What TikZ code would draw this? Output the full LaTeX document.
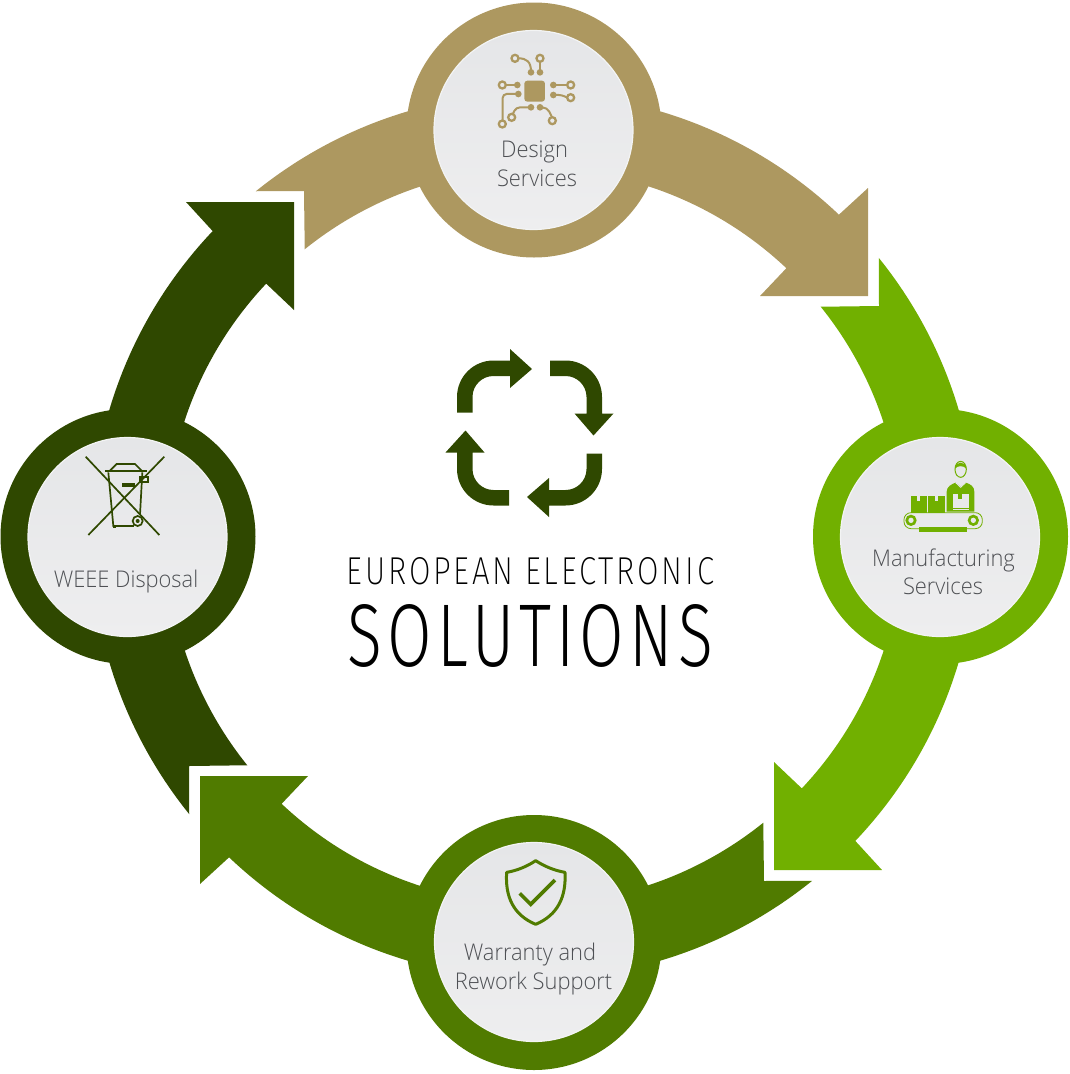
\documentclass[tikz,border=0pt]{standalone}
\usepackage{fontspec}
\newfontfamily\labf[FakeStretch=0.95]{Open Sans Light}
\newfontfamily\titlefa[FakeStretch=0.55,LetterSpace=5]{Fira Sans ExtraLight}
\newfontfamily\titlefb[FakeStretch=0.55,LetterSpace=4.5]{Fira Sans Light}
\definecolor{cbrown}{HTML}{AD9860}
\definecolor{cgreen}{HTML}{71B000}
\definecolor{colive}{HTML}{507B00}
\definecolor{cdark}{HTML}{2F4800}
\definecolor{clabel}{HTML}{4E5054}
\definecolor{cdisk}{HTML}{E8E9EA}
\definecolor{cdisktop}{HTML}{E5E6E8}
\definecolor{cdiskbot}{HTML}{EEEEEF}
\definecolor{crim}{HTML}{F3F4F4}
\tikzset{
  ring/.style={circle,inner sep=0pt,outer sep=0pt,minimum size=255pt,fill=#1},
  disk/.style={circle,inner sep=0pt,outer sep=0pt,minimum size=199pt,top color=cdisktop,bottom color=cdiskbot,draw=crim,line width=1.2pt},
  lab/.style={font=\labf\fontsize{23}{29}\selectfont,text=clabel,align=center,inner sep=0pt},
  iconline/.style={line width=2pt,draw=#1},
  dot/.style={fill=#1,draw=none},
  hole/.style={draw=#1,fill=cdisk,line width=2.3pt},
  bigarrow/.pic={
    \fill[#1] (128.9:443) arc[start angle=128.9,end angle=46.5,radius=443]
      -- (334,348) -- (334,240) -- (226,240) -- (46.7:368)
      arc[start angle=46.7,end angle=128.8,radius=367]
      -- (-230,345) -- cycle;
  },
  loopshape/.pic={
    \fill[cdark] (-72.5,20.5) -- (-72.5,36) arc[start angle=180,end angle=90,radius=36.5]
      -- (-19.5,72.5) -- (-19.5,84) -- (2.5,64) -- (-19.5,45) -- (-19.5,57)
      -- (-36,57) arc[start angle=90,end angle=180,radius=21] -- (-57,20.5) -- cycle;
  }
}
\begin{document}
\begin{tikzpicture}[x=1pt,y=-1pt]
\useasboundingbox (0,0) rectangle (1070,1074);
% big arrows
\begin{scope}[shift={(534,536)},y=1pt]
  \pic[rotate=0] {bigarrow=cbrown};
  \pic[rotate=-90] {bigarrow=cgreen};
  \pic[rotate=-180] {bigarrow=colive};
  \pic[rotate=-270] {bigarrow=cdark};
\end{scope}
% rings and disks
\node[ring=cbrown] (designring) at (534,130) {};
\node[ring=cgreen] (manufring) at (940.5,536.5) {};
\node[ring=colive] (warrring) at (534,942.5) {};
\node[ring=cdark] (weeering) at (128,536.5) {};
\node[disk] (designdisk) at (533.5,130) {};
\node[disk] (manufdisk) at (940,537) {};
\node[disk] (warrdisk) at (534,942) {};
\node[disk] (weeedisk) at (127.5,537) {};
% centre loop
\begin{scope}[shift={(529.5,433)},y=1pt]
  \pic[rotate=0] {loopshape};
  \pic[rotate=-90] {loopshape};
  \pic[rotate=-180] {loopshape};
  \pic[rotate=-270] {loopshape};
\end{scope}
% labels
\node[lab,anchor=base] (designlab) at (534.5,157) {Design};
\node[lab,anchor=base] (designlabb) at (537,186) {Services};
\node[lab,anchor=base] (manuflab) at (943.5,566) {Manufacturing};
\node[lab,anchor=base] (manuflabb) at (943,594) {Services};
\node[lab,anchor=base] (warrlab) at (530,960) {Warranty and};
\node[lab,anchor=base] (warrlabb) at (533.5,989) {Rework Support};
\node[lab,anchor=base] (weeelab) at (126,587) {WEEE Disposal};
% title
\node[inner sep=0pt,anchor=center] (titlea) at (530.5,571) {\resizebox{367pt}{27pt}{\titlefa EUROPEAN ELECTRONIC}};
\node[inner sep=0pt,anchor=center] (titleb) at (530.5,635.5) {\resizebox{365pt}{62pt}{\titlefb SOLUTIONS}};
% circuit icon
\begin{scope}[shift={(430,20)},x=0.3333pt,y=-0.3333pt]
  \fill[cbrown,rounded corners=3pt] (283,182) rectangle (345,245);
  \draw[iconline=cbrown] (265,115) .. controls (290,115) and (303,125) .. (303,155);
  \draw[iconline=cbrown] (330,125) -- (330,155);
  \draw[iconline=cbrown] (228,195) -- (262,195);
  \draw[iconline=cbrown,rounded corners=4pt] (265,222) -- (218,222) -- (218,302);
  \draw[iconline=cbrown,rounded corners=4pt] (303,262) -- (258,262) -- (247,285);
  \draw[iconline=cbrown,rounded corners=5pt] (330,262) -- (352,262) -- (366,292);
  \draw[iconline=cbrown] (370,195) -- (412,195);
  \draw[iconline=cbrown,rounded corners=3pt] (370,225) -- (395,225) -- (412,233);
  \foreach \p in {(303,157),(330,157),(262,195),(265,222),(303,262),(330,262),(370,195),(370,225)} \fill[dot=cbrown] \p circle (10);
  \foreach \p in {(255,115),(330,115),(217,195),(217,312),(245,292),(367,302),(422,195),(422,233)} \draw[hole=cbrown] \p circle (10.5);
\end{scope}
% manufacturing icon
\begin{scope}[shift={(840,440)},x=0.3333pt,y=-0.3333pt]
  \fill[cgreen] (212,167) rectangle (260,220);
  \fill[cgreen] (265,167) rectangle (315,220);
  \fill[cdisk] (231,167) rectangle (239,182);
  \fill[cdisk] (286,167) rectangle (294,182);
  \fill[cgreen] (320,215) -- (320,155) .. controls (320,140) and (335,132) .. (347,128) -- (362,140) -- (377,128) .. controls (392,132) and (403,140) .. (403,155) -- (403,215) -- cycle;
  \draw[line width=0.8pt,draw=cdisk] (347,128) -- (362,142) -- (377,128);
  \draw[line width=1pt,draw=cgreen] (362,88) ellipse (17 and 24);
  \fill[cgreen] (345,86) .. controls (343,62) and (381,62) .. (379,86) .. controls (372,76) and (352,76) .. (345,86) -- cycle;
  \fill[cdisk,draw=cgreen,line width=0.8pt] (338,160) rectangle (388,212);
  \fill[cgreen] (354,160) rectangle (367,178);
  \draw[cgreen,line width=0.7pt] (340,204) -- (386,204);
  \draw[cgreen,line width=0.8pt,rounded corners=7pt] (192,218) rectangle (427,266);
  \fill[cgreen] (237,262) rectangle (382,275);
  \foreach \p in {(213,241),(400,241)} {
    \fill[cgreen] \p circle (17);
    \fill[cdisk] \p circle (8);
  }
\end{scope}
% shield icon
\begin{scope}[shift={(430,840)},x=0.3333pt,y=-0.3333pt]
  \draw[colive,line width=3pt,line join=round] (317,62) .. controls (290,80) and (260,92) .. (230,97)
    .. controls (225,170) and (250,225) .. (317,253)
    .. controls (384,225) and (409,170) .. (405,97)
    .. controls (375,92) and (345,80) .. (317,62) -- cycle;
  \draw[colive,line width=3.6pt] (269,160) -- (302,193) -- (375,120);
\end{scope}
% weee icon
\begin{scope}[shift={(20,440)},x=0.3333pt,y=-0.3333pt]
  \begin{scope}[cdark,line width=1.7pt]
    \draw (197,50) -- (418,285);
    \draw (433,50) -- (205,285);
    \draw (265,97) -- (280,258) -- (342,258);
    \draw (367,97) -- (360,225);
    \draw (255,92) -- (380,92);
    \draw (270,92) -- (290,72) -- (345,72) -- (365,92);
    \draw (360,110) rectangle (383,127);
    \fill (305,130) rectangle (345,140);
    \fill (280,255) rectangle (288,264);
    \draw (353,243) circle (15);
    \fill (353,243) circle (6);
  \end{scope}
\end{scope}
\end{tikzpicture}
\end{document}
